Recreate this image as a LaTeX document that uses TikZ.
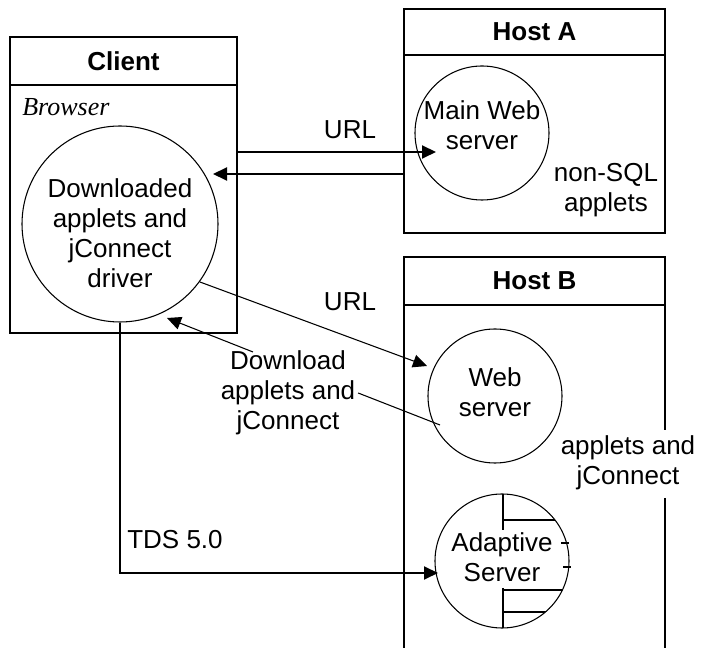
\documentclass[tikz,border=0pt]{standalone}
\usepackage{fontspec}
\setmainfont{Liberation Sans}
\newfontfamily\serifit{Liberation Serif}
\usetikzlibrary{arrows.meta}
\begin{document}
\begin{tikzpicture}[x=0.75pt,y=-0.75pt,
  box/.style={draw, line width=1.5pt},
  conn/.style={line width=1.5pt},
  thinline/.style={line width=0.8pt},
  arr/.style={-{Triangle[length=10.5pt,width=9.75pt]}},
  txt/.style={font=\fontsize{19.5pt}{22.5pt}\selectfont, align=center, inner sep=0pt},
  hdr/.style={font=\fontsize{19.5pt}{22.5pt}\selectfont\bfseries, inner sep=0pt},
  circ/.style={draw, circle, line width=0.8pt, inner sep=0pt},
  inner/.style={line width=1.5pt}]
\useasboundingbox (0,0) rectangle (701,648);

% boxes
\node[box, rectangle, minimum width=170.25pt, minimum height=222pt, inner sep=0pt] (client) at (123.5,185) {};
\node[box, rectangle, minimum width=195.75pt, minimum height=168pt, inner sep=0pt] (hostA) at (534.5,121) {};
\coordinate (ch) at (0,85);
\coordinate (ah) at (0,55);
\draw[box] (client.west |- ch) -- (client.east |- ch);
\draw[box] (hostA.west |- ah) -- (hostA.east |- ah);
\coordinate (b1) at (404,648);
\coordinate (b2) at (404,257);
\coordinate (b3) at (665,257);
\coordinate (b4) at (665,430);
\coordinate (b5) at (665,498);
\coordinate (b6) at (665,648);
\coordinate (b7) at (404,305);
\coordinate (b8) at (665,305);
\draw[box] (b1) -- (b2) -- (b3) -- (b4);
\draw[box] (b5) -- (b6);
\draw[box] (b7) -- (b8);

% headers
\node[hdr] (clientt) at (123.5,61) {Client};
\node[hdr] (hostat) at (534.5,32) {Host A};
\node[hdr] (hostbt) at (534.5,281) {Host B};
\node[inner sep=0pt, anchor=west, font=\serifit\itshape\fontsize{19.5pt}{22.5pt}\selectfont] (browser) at (22,107) {Browser};

% circles
\node[circ, minimum size=147pt] (cc) at (120,224) {};
\node[txt] (cct) at (120,233) {Downloaded\\applets and\\jConnect\\driver};
\node[circ, minimum size=100.5pt] (mw) at (482,133) {};
\node[txt] (mwt) at (482,125) {Main Web\\server};
\node[circ, minimum size=100.5pt] (ws) at (495,396) {};
\node[txt] (wst) at (495,392) {Web\\server};
\node[circ, minimum size=100.5pt] (as) at (502,561) {};
\node[txt] (ast) at (502,557) {Adaptive\\Server};

% adaptive server internals
\begin{scope}
\clip (502,561) circle [radius=67];
\draw[inner] (503,480) -- (503,530);
\draw[inner] (503,520) -- (600,520);
\draw[inner] (503,588) -- (503,640);
\draw[inner] (503,590) -- (600,590);
\draw[inner] (503,612) -- (600,612);
\end{scope}
\draw[inner] (561,543) -- (569,543);
\draw[inner] (563,567) -- (571,567);

% side labels
\node[txt] (nonsql) at (606,190) {non-SQL\\applets};
\node[txt] (appj) at (628,463) {applets and\\jConnect};

% connectors
\coordinate (y152) at (0,152);
\coordinate (mwtip) at (436,152);
\coordinate (y174) at (0,174);
\coordinate (rettip) at (213,174);
\draw[conn,arr] (client.east |- y152) -- (mwtip);
\draw[conn,arr] (hostA.west |- y174) -- (rettip);
\node[txt] (url1) at (350,130) {URL};

\coordinate (wstip) at (427,366);
\draw[thinline,arr] (cc.-36) -- (wstip);
\node[txt] (url2) at (350,302) {URL};

\node[txt, inner sep=2pt] (dl) at (288,393) {Download\\applets and\\jConnect};
\coordinate (wsin) at (440,425);
\coordinate (dlu) at (253,352);
\coordinate (cctip) at (167,318);
\draw[thinline] (wsin) -- (dl.east);
\draw[thinline,arr] (dlu) -- (cctip);

\coordinate (tdsy) at (0,573);
\coordinate (astip) at (438,573);
\draw[conn,arr] (cc.south) -- (cc.south |- tdsy) -- (astip);
\node[txt] (tds) at (175,540) {TDS 5.0};
\end{tikzpicture}
\end{document}
